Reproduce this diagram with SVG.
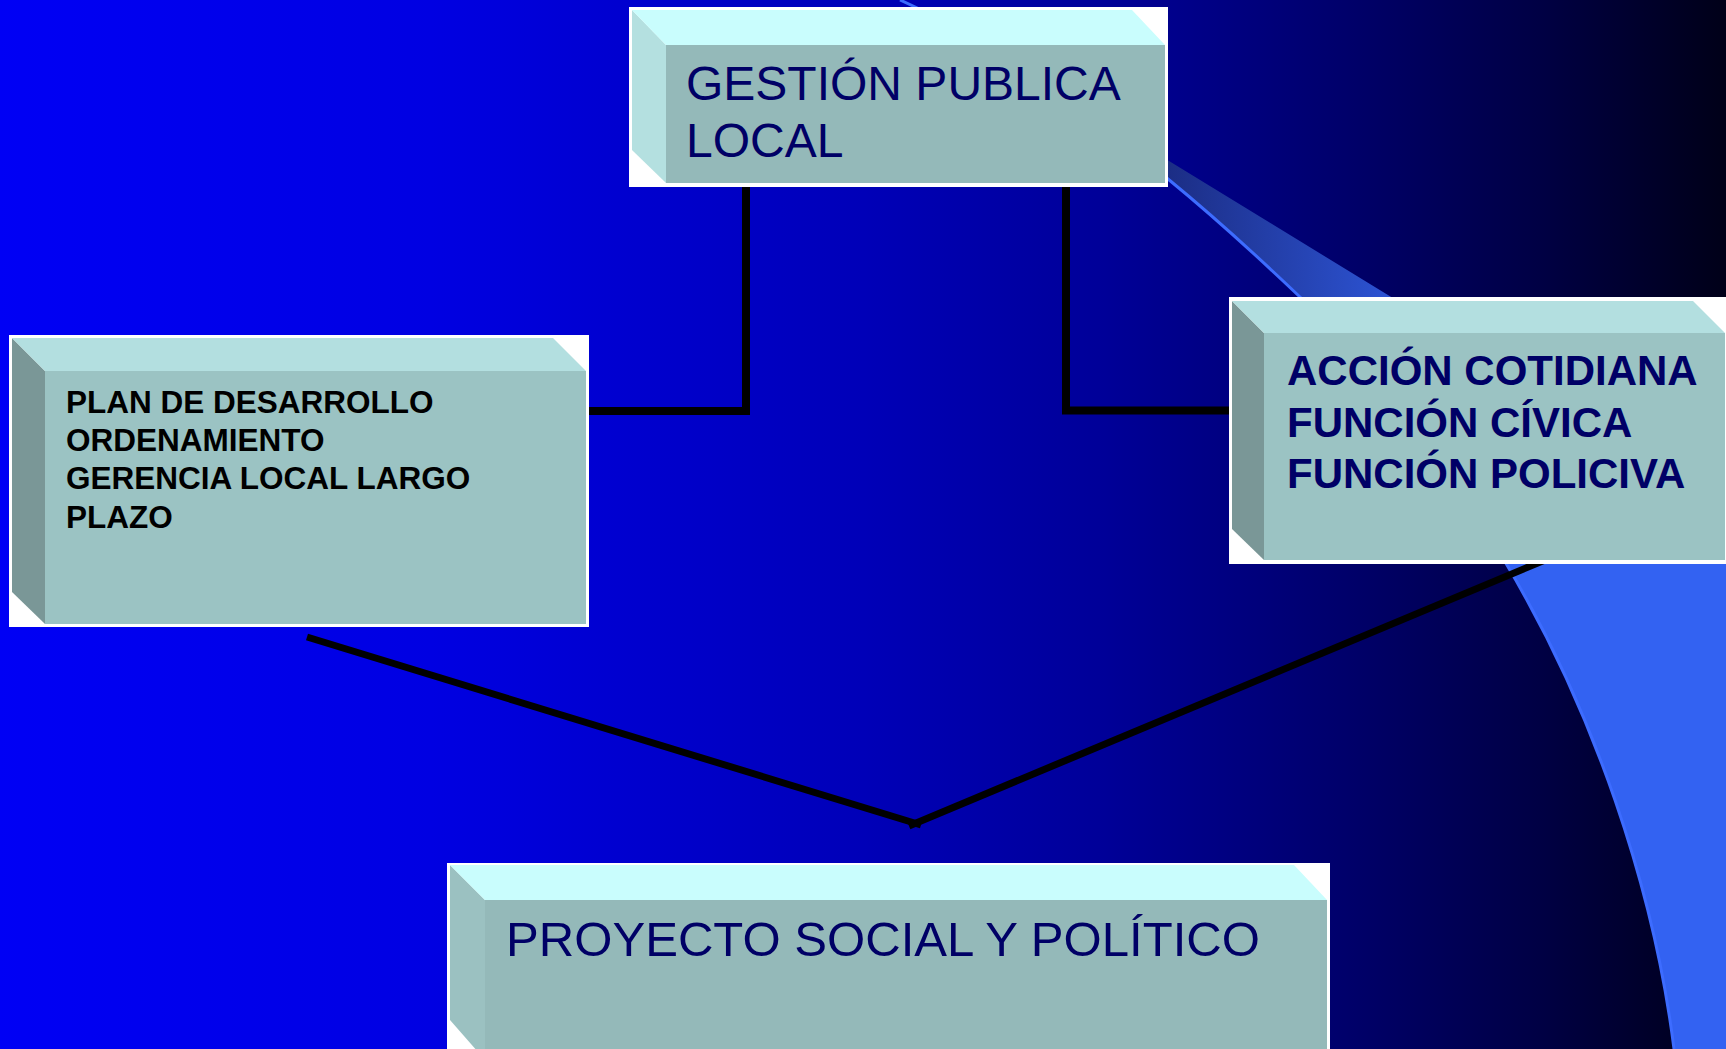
<svg xmlns="http://www.w3.org/2000/svg" width="1726" height="1049" viewBox="0 0 1726 1049">
<defs>
<linearGradient id="bg" x1="0" y1="0" x2="1" y2="0">
<stop offset="0" stop-color="#0000f5"/>
<stop offset="0.25" stop-color="#0000e2"/>
<stop offset="0.5" stop-color="#0000b8"/>
<stop offset="0.64" stop-color="#000098"/>
<stop offset="0.77" stop-color="#00006e"/>
<stop offset="0.89" stop-color="#000045"/>
<stop offset="1" stop-color="#000018"/>
</linearGradient>
<linearGradient id="sw" gradientUnits="userSpaceOnUse" x1="1160" y1="0" x2="1480" y2="0">
<stop offset="0" stop-color="#1b2c82"/>
<stop offset="1" stop-color="#3362f2"/>
</linearGradient>
<style>
.frame{fill:#ffffff}
.topA{fill:#c9fdfd}
.sideA{fill:#b4e0e0}
.frontA{fill:#94b9b9}
.topB{fill:#b3dfe0}
.sideB{fill:#7a9797}
.frontB{fill:#9bc3c3}
.sideC{fill:#9bc1c1}
.conn{fill:none;stroke:#000000;stroke-width:8}
.diag{fill:none;stroke:#000000;stroke-width:7}
.t1{font-family:"Liberation Sans",Arial,sans-serif;font-size:48px;fill:#000066}
.t2{font-family:"Liberation Sans",Arial,sans-serif;font-size:31.5px;font-weight:bold;fill:#000000}
.t3{font-family:"Liberation Sans",Arial,sans-serif;font-size:42px;font-weight:bold;fill:#000066}
.t4{font-family:"Comic Sans MS","Liberation Sans",sans-serif;font-size:48px;fill:#000066}
</style>
</defs>
<rect x="0" y="0" width="1726" height="1049" fill="url(#bg)"/>
<path d="M1168 179 C1212 215 1256 255 1300 297 C1368 362 1435 447 1504 560 C1594 710 1654 889 1674 1049 L1726 1049 L1726 502 L1100 118.7 Z" fill="url(#sw)"/>
<path d="M900 0 C989 40 1079 106 1168 179 C1212 215 1256 255 1300 297 C1368 362 1435 447 1504 560 C1594 710 1654 889 1674 1049" fill="none" stroke="#3d6cff" stroke-width="3"/>
<g id="connectors">
<path class="conn" d="M746 186 V411 H588"/>
<path class="conn" d="M1066 186 V410.5 H1229"/>
<path class="diag" d="M307 637 L921 825"/>
<path class="diag" d="M1545 560 L909 826"/>
</g>
<g id="n-gestion">
<rect class="frame" x="629" y="7" width="539" height="180"/>
<polygon class="sideA" points="632,10 666,45 666,183 632,150"/>
<polygon class="topA" points="632,10 1132,10 1165,45 666,45"/>
<rect class="frontA" x="666" y="45" width="499" height="138"/>
<text class="t1" x="686" y="100">GESTIÓN PUBLICA</text>
<text class="t1" x="686" y="157">LOCAL</text>
</g>
<g id="n-plan">
<rect class="frame" x="9" y="335" width="580" height="292"/>
<polygon class="sideB" points="12,338 45,371 45,624 12,592"/>
<polygon class="topB" points="12,338 553,338 586,371 45,371"/>
<rect class="frontB" x="45" y="371" width="541" height="253"/>
<text class="t2" x="66" y="413">PLAN DE DESARROLLO</text>
<text class="t2" x="66" y="451">ORDENAMIENTO</text>
<text class="t2" x="66" y="489">GERENCIA LOCAL LARGO</text>
<text class="t2" x="66" y="528">PLAZO</text>
</g>
<g id="n-accion">
<rect class="frame" x="1229" y="297" width="500" height="267"/>
<polygon class="sideB" points="1232,301 1264,333 1264,560 1232,529"/>
<polygon class="topB" points="1232,301 1693,301 1725,333 1264,333"/>
<rect class="frontB" x="1264" y="333" width="461" height="227"/>
<text class="t3" x="1287" y="385">ACCIÓN COTIDIANA</text>
<text class="t3" x="1287" y="437">FUNCIÓN CÍVICA</text>
<text class="t3" x="1287" y="488">FUNCIÓN POLICIVA</text>
</g>
<g id="n-proyecto">
<rect class="frame" x="447" y="863" width="883" height="200"/>
<polygon class="sideC" points="450,865 485,900 485,1060 450,1020"/>
<polygon class="topA" points="450,865 1294,865 1327,900 485,900"/>
<rect class="frontA" x="485" y="900" width="842" height="160"/>
<text class="t4" x="506" y="956" textLength="754" lengthAdjust="spacingAndGlyphs">PROYECTO SOCIAL Y POLÍTICO</text>
</g>
</svg>
